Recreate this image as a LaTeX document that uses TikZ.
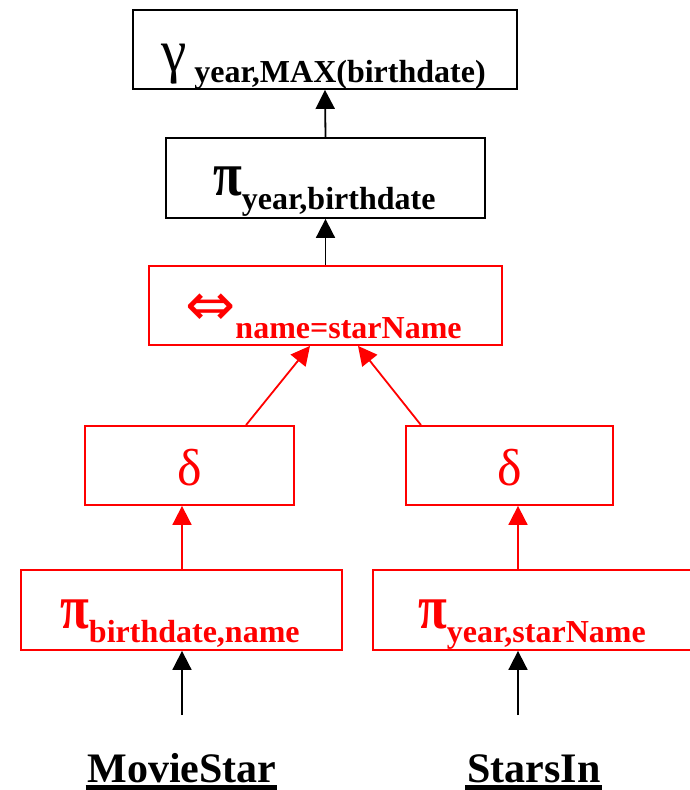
\documentclass[tikz,border=0pt]{standalone}
\usepackage{fontspec}
\setmainfont{Liberation Serif}
\newfontfamily\symfont{DejaVu Sans}
\usetikzlibrary{arrows.meta}

% subscript of an operator, set lower than the operator symbol
\newcommand\opsub[2][13pt]{\raisebox{-#1}{\fontsize{32}{32}\selectfont\bfseries #2}}
% operator symbol
\newcommand\opsym[2][50]{{\fontsize{#1}{#1}\selectfont #2}}
% bold projection symbol, drawn a little taller than the font's own
\newcommand\projsym{\scalebox{1.05}[1.25]{\opsym{\bfseries π}}}
% relation name with a heavy underline
\newcommand\thickul[1]{\sbox0{#1}\rlap{\kern-2pt\rule[-8pt]{\dimexpr\wd0+3pt\relax}{5pt}}\usebox0}

\definecolor{opred}{RGB}{255,0,0}

\begin{document}
\begin{tikzpicture}[x=1pt,y=-1pt,
  opbox/.style={draw=#1, line width=1.8pt, inner sep=0pt, minimum height=79pt},
  opbox/.default=black,
  optext/.style={anchor=base west, inner sep=0pt, text=#1},
  optext/.default=black,
  flow/.style={draw=#1, line width=1.8pt, -{Triangle[length=19pt,width=19pt]}},
  flow/.default=black,
  relname/.style={anchor=base, inner sep=0pt, font=\fontsize{42}{42}\selectfont\bfseries}]
\useasboundingbox (0,0) rectangle (689,790);

% operator boxes
\node[opbox, minimum width=384pt] (agg)  at (325,49.5) {};
\node[opbox, minimum width=319pt, minimum height=80pt] (proj) at (325.5,178) {};
\node[opbox=opred, minimum width=353pt] (join) at (325.5,305.5) {};
\node[opbox=opred, minimum width=209pt] (dupL) at (189.5,465.5) {};
\node[opbox=opred, minimum width=207pt] (dupR) at (509.5,465.5) {};
\node[opbox=opred, minimum width=321pt, minimum height=80pt] (prjL) at (181.5,610) {};
\node[opbox=opred, minimum width=327pt, minimum height=80pt] (prjR) at (536.5,610) {};

% operator labels
\node[optext] (aggT)  at (161,71)  {\scalebox{1.1}[1.15]{\opsym[52]{γ}}\hspace{8pt}\opsub[11pt]{year,MAX(birthdate)}};
\node[optext] (projT) at (213,195) {\projsym\opsub[14pt]{year,birthdate}};
\node[optext=opred] (joinT) at (185,325) {{\symfont\fontsize{60}{60}\selectfont ⇔}\opsub{name=starName}};
\node[anchor=base, inner sep=0pt, text=opred] (dupLT) at (dupL.center |- 0,485) {\opsym[52]{δ}};
\node[anchor=base, inner sep=0pt, text=opred] (dupRT) at (dupR.center |- 0,485) {\opsym[52]{δ}};
\node[optext=opred] (prjLT) at (60,628) {\projsym\opsub[14pt]{birthdate,name}};
\node[optext=opred] (prjRT) at (418,628) {\projsym\opsub[14pt]{year,starName}};

% base relations
\node[relname] (movie) at (182,782) {\thickul{MovieStar}};
\node[relname] (stars) at (534,782) {\thickul{StarsIn}};
\coordinate (colL) at (182,715);
\coordinate (colR) at (518,715);

% data flow
\draw[flow] (colL) -- (colL |- prjL.south);
\draw[flow] (colR) -- (colR |- prjR.south);
\draw[flow=opred] (colL |- prjL.north) -- (colL |- dupL.south);
\draw[flow=opred] (colR |- prjR.north) -- (colR |- dupR.south);
\draw[flow=opred] ([xshift=56.5pt]dupL.north) -- ([xshift=-15.5pt]join.south);
\draw[flow=opred] ([xshift=-88.5pt]dupR.north) -- ([xshift=32.5pt]join.south);
\draw[flow] (join.north) -- (proj.south);
\draw[flow] (proj.north) -- (agg.south);
\end{tikzpicture}
\end{document}
